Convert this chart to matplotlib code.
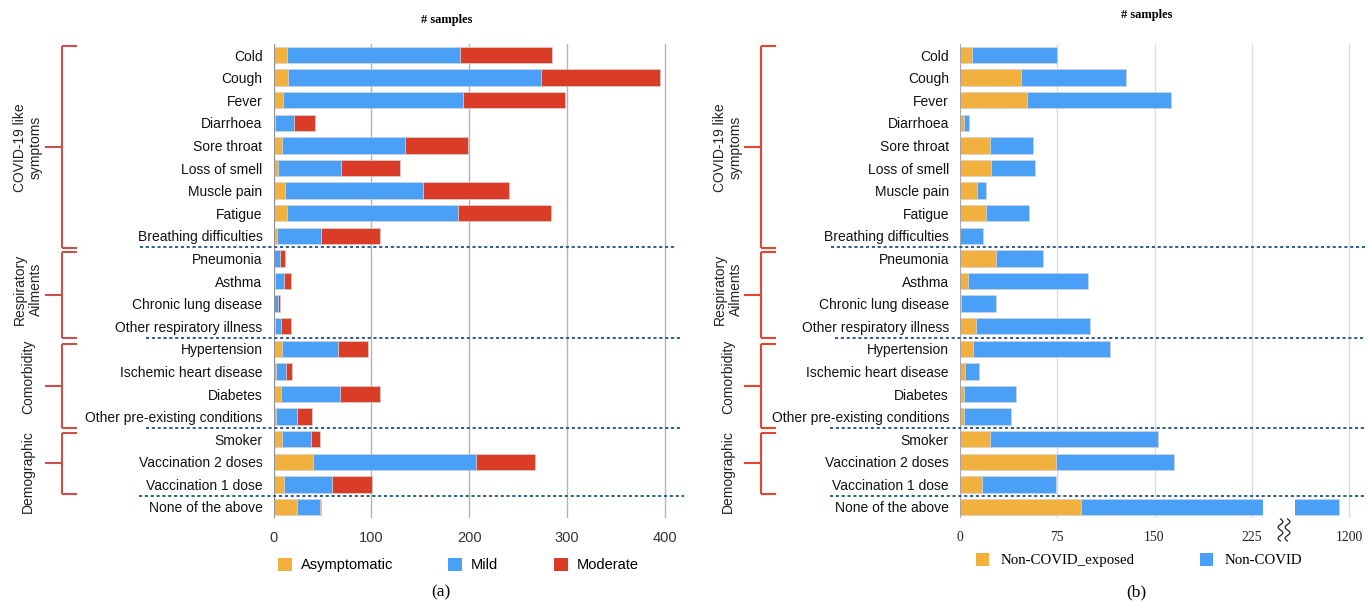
import numpy as np
import matplotlib
matplotlib.use("Agg")
import matplotlib.pyplot as plt
from matplotlib.lines import Line2D
from matplotlib.patches import Patch
from matplotlib.transforms import blended_transform_factory

W, H = 1368, 603
SANS = ["Liberation Sans", "DejaVu Sans"]
SERIF = ["Liberation Serif", "DejaVu Serif"]
ORANGE, BLUE, RED = "#f2b03f", "#4a9ff6", "#db3c27"

categories = ["Cold", "Cough", "Fever", "Diarrhoea", "Sore throat", "Loss of smell", "Muscle pain",
              "Fatigue", "Breathing difficulties", "Pneumonia", "Asthma", "Chronic lung disease",
              "Other respiratory illness", "Hypertension", "Ischemic heart disease", "Diabetes",
              "Other pre-existing conditions", "Smoker", "Vaccination 2 doses", "Vaccination 1 dose",
              "None of the above"]
group_names = ["COVID-19 like\nsymptoms", "Respiratory\nAilments", "Comorbidity", "Demographic"]

# (a) COVID-positive subjects by severity
asymptomatic = [14, 15, 10, 2, 9, 5, 12, 14, 4, 1, 2, 1, 2, 9, 3, 8, 3, 9, 40, 11, 24]
mild = [176, 258, 184, 19, 125, 64, 141, 174, 44, 6, 9, 4, 6, 57, 10, 60, 21, 29, 167, 49, 23]
moderate = [94, 122, 104, 21, 65, 60, 87, 95, 61, 5, 7, 2, 10, 31, 6, 41, 15, 9, 60, 41, 1]

# (b) non-COVID subjects
non_covid_exposed = [9, 47, 52, 3, 23, 24, 13, 20, 0, 28, 6, 1, 12, 10, 4, 3, 3, 23, 74, 17, 93]
non_covid = [66, 81, 111, 4, 33, 34, 7, 33, 18, 36, 93, 27, 88, 106, 11, 40, 36, 130, 91, 57, 1099]

ticks_a = [0, 100, 200, 300, 400]
ticks_b = [0, 75, 150, 225]
ticks_b_break = [1200]

# layout (pixels / data-y) ---------------------------------------------------
ROW0, ROWH = 55.0, 22.6
TOP, BOT = ROW0 - ROWH / 2, ROW0 + 20.5 * ROWH
BRACKET_SPANS = [(-0.42, 8.52), (8.70, 12.52), (12.80, 16.52), (16.72, 19.42)]
LABEL_Y = [4.1, 10.35, 14.25, 18.45]
SEP_A = [(8.5, 140, 675), (12.5, 146, 681), (16.5, 146, 681), (19.5, 139, 684)]
SEP_B = [(8.5, 831, 1366), (12.5, 835, 1363), (16.5, 830, 1366), (19.5, 830, 1366)]


def fx(px):
    return px / W


def fy(px):
    return 1 - px / H


def stacked(ax, series, colors):
    y = np.arange(len(categories))
    left = np.zeros(len(categories))
    for vals, c in zip(series, colors):
        vals = np.asarray(vals, float)
        ax.barh(y, vals, left=left, height=0.73, color=c, edgecolor="#d4d4d4", linewidth=0.5, zorder=2)
        left += vals


def base_axes(ax, xlim, grid_color):
    ax.set_ylim(20.5, -0.5)
    ax.set_xlim(*xlim)
    ax.set_yticks([])
    for s in ax.spines.values():
        s.set_visible(False)
    ax.grid(axis="x", color=grid_color, lw=1.0, zorder=0)
    ax.set_axisbelow(True)
    ax.tick_params(length=0, pad=9, labelsize=10.5, labelcolor="#333")


def decorate(ax, seps, bx, bcolor, label_x):
    tr = blended_transform_factory(fig.transFigure, ax.transData)
    for yv, x0, x1 in seps:
        fig.add_artist(Line2D([fx(x0), fx(x1)], [yv, yv], transform=tr, color="#2f5d8c", lw=1.4,
                              linestyle=(0, (1.6, 1.4))))
    for (y0, y1), ly, name in zip(BRACKET_SPANS, LABEL_Y, group_names):
        kw = dict(transform=tr, color=bcolor, lw=1.5, solid_capstyle="butt")
        fig.add_artist(Line2D([fx(bx), fx(bx)], [y0, y1], **kw))
        fig.add_artist(Line2D([fx(bx), fx(bx + 15)], [y0, y0], **kw))
        fig.add_artist(Line2D([fx(bx), fx(bx + 15)], [y1, y1], **kw))
        ym = (y0 + y1) / 2
        fig.add_artist(Line2D([fx(bx - 17), fx(bx)], [ym, ym], **kw))
        fig.text(fx(label_x), ly, name, transform=tr, rotation=90, ha="center", va="center",
                 multialignment="center", fontsize=10, family=SANS, color="#222")


fig = plt.figure(figsize=(W / 100, H / 100), dpi=100)
ax_h = (BOT - TOP) / H

# ---- panel (a) ----
ax_a = fig.add_axes([fx(273.5), fy(BOT), 399.5 / W, ax_h])
stacked(ax_a, [asymptomatic, mild, moderate], [ORANGE, BLUE, RED])
base_axes(ax_a, (0, 408), "#b3b3b3")
ax_a.axvline(0, color="#8a8a8a", lw=1.2, zorder=3)
ax_a.set_yticks(np.arange(len(categories)), categories)
ax_a.tick_params(axis="y", pad=8, labelsize=10, labelcolor="#111")
ax_a.set_xticks(ticks_a)
for t in ax_a.get_xticklabels() + ax_a.get_yticklabels():
    t.set_family(SANS)
decorate(ax_a, SEP_A, 62, "#c8524a", 28)
fig.text(fx(447), fy(20), "# samples", family=SERIF, weight="bold", fontsize=9, ha="center", va="center")
fig.legend(handles=[Patch(fc=c, ec="none", label=l) for c, l in
                    zip([ORANGE, BLUE, RED], ["Asymptomatic", "Mild", "Moderate"])],
           loc="center left", bbox_to_anchor=(fx(278), fy(565)), ncol=3, frameon=False,
           borderpad=0, borderaxespad=0, handlelength=0.95, handleheight=1.0, handletextpad=0.6,
           columnspacing=3.8, prop={"family": SANS, "size": 10.5})
fig.text(fx(441), fy(592), "(a)", family=SERIF, fontsize=12.5, ha="center", va="center")

# ---- panel (b), broken x-axis ----
ax_b1 = fig.add_axes([fx(960), fy(BOT), 302.5 / W, ax_h])
ax_b2 = fig.add_axes([fx(1295), fy(BOT), 71 / W, ax_h])
for ax, lim, ticks in [(ax_b1, (0, 233.2), ticks_b), (ax_b2, (1158.4, 1213), ticks_b_break)]:
    stacked(ax, [non_covid_exposed, non_covid], [ORANGE, BLUE])
    base_axes(ax, lim, "#dcdcdc")
    ax.set_xticks(ticks)
    ax.tick_params(axis="x", labelsize=9.8, labelcolor="#222")
    for t in ax.get_xticklabels():
        t.set_family(SERIF)
ax_b1.axvline(0, color="#a0a0a0", lw=1.2, zorder=3)
ax_b1.set_yticks(np.arange(len(categories)), categories)
ax_b1.tick_params(axis="y", pad=8, labelsize=10, labelcolor="#111")
for t in ax_b1.get_yticklabels():
    t.set_family(SANS)
decorate(ax_b1, SEP_B, 761, "#e5452f", 728)
fig.text(fx(1147), fy(15), "# samples", family=SERIF, weight="bold", fontsize=9, ha="center", va="center")
fig.legend(handles=[Patch(fc=c, ec="none", label=l) for c, l in
                    zip([ORANGE, BLUE], ["Non-COVID_exposed", "Non-COVID"])],
           loc="center left", bbox_to_anchor=(fx(976), fy(560)), ncol=2, frameon=False,
           borderpad=0, borderaxespad=0, handlelength=0.9, handleheight=1.0, handletextpad=0.75,
           columnspacing=4.4, prop={"family": SERIF, "size": 10.7})
fig.text(fx(1136), fy(592), "(b)", family=SERIF, fontsize=12.5, ha="center", va="center")

# axis-break squiggles
yy = np.linspace(519, 541, 80)
for xc in (1280.5, 1287.5):
    xx = xc + 2.4 * np.sin(2 * np.pi * (yy - 519) / 11.0)
    fig.add_artist(Line2D(xx / W, 1 - yy / H, transform=fig.transFigure, color="#222", lw=0.9))

fig.savefig("out.png", dpi=100)
